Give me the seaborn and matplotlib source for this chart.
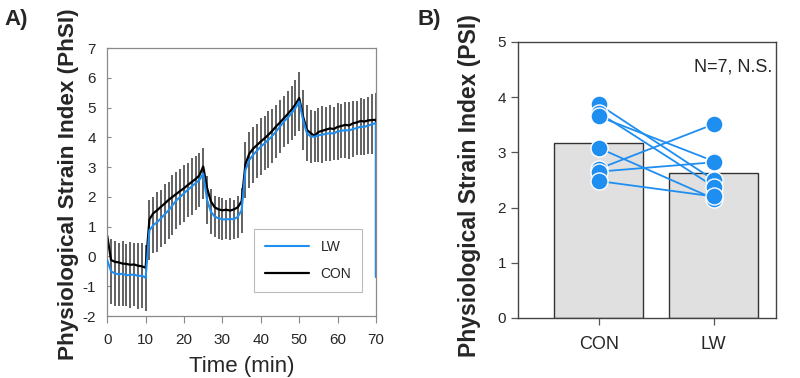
import numpy as np
import pandas as pd
import seaborn as sns
import matplotlib.pyplot as plt

sns.set_style("ticks")
plt.rcParams['font.family'] = ['Liberation Sans', 'DejaVu Sans']
plt.rcParams['axes.unicode_minus'] = False

# Panel A: time course, 1-min resolution (last point = drop at the end of the record)
time_min = list(range(0, 71)) + [70]
phsi_con = [0.70, -0.12, -0.18, -0.20, -0.24, -0.25, -0.28, -0.27, -0.31, -0.33,
            -0.38, 1.25, 1.45, 1.55, 1.67, 1.78, 1.90, 2.00, 2.10, 2.20,
            2.29, 2.40, 2.50, 2.60, 2.72, 3.02, 2.30, 1.85, 1.65, 1.58,
            1.55, 1.57, 1.54, 1.58, 1.65, 1.85, 3.10, 3.45, 3.62, 3.74,
            3.86, 3.97, 4.09, 4.22, 4.37, 4.50, 4.64, 4.78, 4.93, 5.10,
            5.32, 4.70, 4.25, 4.14, 4.05, 4.18, 4.22, 4.26, 4.30, 4.28,
            4.35, 4.38, 4.42, 4.40, 4.47, 4.50, 4.55, 4.53, 4.57, 4.58,
            4.59, -0.68]
phsi_lw = [-0.12, -0.50, -0.57, -0.60, -0.58, -0.63, -0.62, -0.60, -0.66, -0.64,
           -0.72, 0.88, 1.05, 1.15, 1.28, 1.42, 1.55, 1.72, 1.88, 2.00,
           2.12, 2.24, 2.35, 2.46, 2.57, 2.78, 1.90, 1.50, 1.34, 1.28,
           1.25, 1.24, 1.26, 1.25, 1.33, 1.55, 2.90, 3.24, 3.41, 3.55,
           3.69, 3.80, 3.92, 4.05, 4.20, 4.36, 4.53, 4.66, 4.81, 4.98,
           5.20, 4.59, 4.14, 4.03, 4.02, 4.07, 4.09, 4.12, 4.14, 4.13,
           4.20, 4.22, 4.24, 4.23, 4.28, 4.31, 4.36, 4.35, 4.40, 4.44,
           4.48, -0.68]
# SD used for the vertical error bars (one per minute, around LW)
phsi_sd = [1.00, 1.10, 1.10, 1.05, 1.10, 1.05, 1.10, 1.05, 1.10, 1.10,
           1.10, 1.00, 0.95, 1.00, 0.95, 1.00, 0.95, 1.00, 0.95, 0.95,
           0.95, 0.90, 0.95, 0.90, 0.90, 0.85, 0.80, 0.75, 0.70, 0.70,
           0.70, 0.65, 0.70, 0.65, 0.70, 0.75, 0.95, 0.95, 0.95, 0.90,
           0.95, 0.90, 0.95, 0.90, 0.90, 0.90, 0.85, 0.90, 0.90, 0.95,
           1.00, 1.00, 0.95, 0.90, 0.85, 0.90, 0.95, 0.90, 0.95, 0.90,
           0.95, 0.90, 0.95, 0.95, 0.95, 0.90, 0.95, 0.95, 0.95, 1.00,
           1.00]

# Panel B: individual PSI values, paired (same order in both lists)
groups = ['CON', 'LW']
psi_con = [3.87, 3.72, 3.65, 3.08, 2.70, 2.65, 2.48]
psi_lw = [2.50, 2.38, 2.84, 2.16, 3.51, 2.82, 2.20]

blue = '#1f8ef1'
edge_gray = '#8a8a8a'

fig = plt.figure(figsize=(8, 3.78), dpi=100)
axA = fig.add_axes([0.134, 0.164, 0.336, 0.709])
axB = fig.add_axes([0.6475, 0.159, 0.3225, 0.730])

# ---- Panel A ----
df_ts = pd.DataFrame({'t': time_min, 'LW': phsi_lw, 'CON': phsi_con})
t_bar = np.array(time_min[:71])
lw_bar = np.array(phsi_lw[:71])
sd_bar = np.array(phsi_sd)
axA.vlines(t_bar, lw_bar - sd_bar, lw_bar + sd_bar, color='#555555', lw=1.3, zorder=1)
sns.lineplot(data=df_ts, x='t', y='LW', estimator=None, sort=False, color=blue,
             lw=1.5, ax=axA, label='LW', zorder=3)
sns.lineplot(data=df_ts, x='t', y='CON', estimator=None, sort=False, color='black',
             lw=1.6, ax=axA, label='CON', zorder=2)
axA.set_xlim(0, 70)
axA.set_ylim(-2, 7)
axA.set_xticks(range(0, 71, 10))
axA.set_yticks(range(-2, 8))
axA.set_xlabel('Time (min)', fontsize=16)
axA.xaxis.set_label_coords(0.5, -0.148)
axA.set_ylabel('Physiological Strain Index (PhSI)', fontsize=16.2, fontweight='bold')
axA.yaxis.set_label_coords(-0.105, 0.49)
axA.tick_params(axis='x', labelsize=11, color=edge_gray, length=5, width=0.8, pad=7)
axA.tick_params(axis='y', labelsize=11, color=edge_gray, length=3, width=0.8,
                direction='in', pad=8)
for s in axA.spines.values():
    s.set_color(edge_gray)
    s.set_linewidth(0.9)
leg = axA.legend(loc='lower right', bbox_to_anchor=(0.975, 0.065), fontsize=10,
                 fancybox=False, edgecolor='#aaaaaa', handlelength=3.2,
                 borderpad=0.8, labelspacing=0.9)
leg.get_frame().set_linewidth(0.8)

# ---- Panel B ----
df_pts = pd.DataFrame({'group': ['CON'] * len(psi_con) + ['LW'] * len(psi_lw),
                       'psi': psi_con + psi_lw})
sns.barplot(data=df_pts, x='group', y='psi', order=groups, estimator='mean',
            errorbar=None, width=0.77, color='#e0e0e0', edgecolor='#333333',
            linewidth=1.0, ax=axB, zorder=1)
for c, l in zip(psi_con, psi_lw):
    axB.plot([0, 1], [c, l], color=blue, lw=1.3, zorder=2)
sns.scatterplot(data=df_pts, x='group', y='psi', color=blue, s=150,
                edgecolor='white', linewidth=1.0, ax=axB, zorder=3)
axB.set_xlim(-0.70, 1.54)
axB.set_ylim(0, 5)
axB.set_yticks(range(0, 6))
axB.set_xlabel('')
axB.set_ylabel('Physiological Strain Index (PSI)', fontsize=16.5, fontweight='bold')
axB.yaxis.set_label_coords(-0.145, 0.48)
axB.tick_params(axis='y', labelsize=11, color='#555555', length=5, width=0.9)
axB.tick_params(axis='x', labelsize=13, color='#555555', length=5, width=0.9, pad=8)
for s in axB.spines.values():
    s.set_visible(True)
    s.set_color('#444444')
    s.set_linewidth(1.0)
axB.text(0.985, 0.94, 'N=7, N.S.', transform=axB.transAxes, ha='right', va='top', fontsize=13)

fig.text(0.005, 0.975, 'A)', fontsize=16, fontweight='bold', va='top')
fig.text(0.522, 0.975, 'B)', fontsize=16, fontweight='bold', va='top')

fig.savefig('out.png', dpi=100)
